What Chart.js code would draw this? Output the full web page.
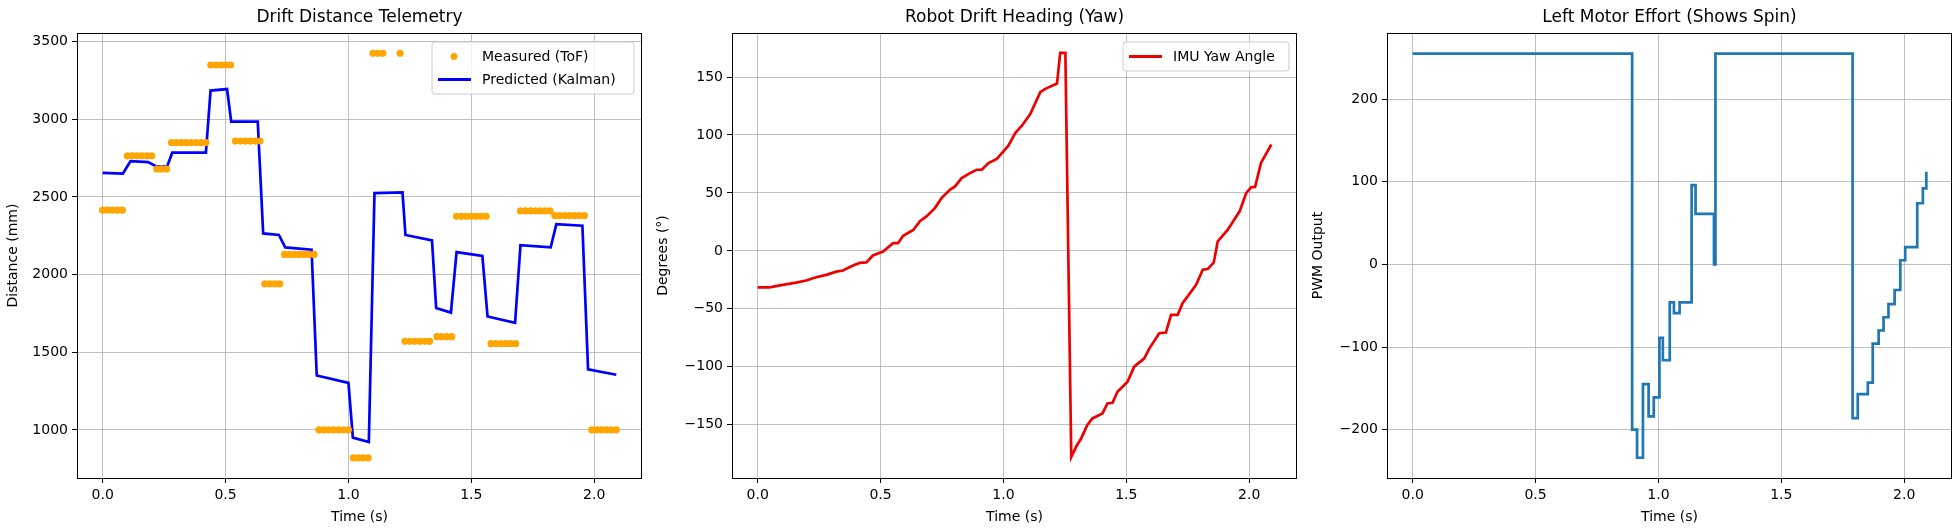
<!DOCTYPE html>
<html><head><meta charset="utf-8">
<script src="https://cdn.jsdelivr.net/npm/chart.js@4.4.1/dist/chart.umd.min.js"></script>
<style>
html,body{margin:0;padding:0;background:#fff;width:1960px;height:530px;overflow:hidden;position:relative}
canvas{position:absolute;top:0}
</style></head><body>
<canvas id="c1" width="655" height="530" style="left:-3px"></canvas>
<canvas id="c2" width="655" height="530" style="left:652px"></canvas>
<canvas id="c3" width="655" height="530" style="left:1307px"></canvas>
<script>
// ---- data ----
const timeTicks = [0, 0.5, 1.0, 1.5, 2.0];
const distTicks = [1000, 1500, 2000, 2500, 3000, 3500];
const yawTicks = [-150, -100, -50, 0, 50, 100, 150];
const pwmTicks = [-200, -100, 0, 100, 200];

const measTime = [0,0.02,0.04,0.06,0.08, 0.10,0.12,0.14,0.16,0.18,0.20, 0.22,0.24,0.26,
  0.28,0.30,0.32,0.34,0.36,0.38,0.40,0.42, 0.44,0.46,0.48,0.50,0.52, 0.54,0.56,0.58,0.60,0.62,0.64,
  0.66,0.68,0.70,0.72, 0.74,0.76,0.78,0.80,0.82,0.84,0.86, 0.88,0.90,0.92,0.94,0.96,0.98,1.00,
  1.02,1.04,1.06,1.08, 1.10,1.12,1.14,1.21, 1.23,1.25,1.27,1.29,1.31,1.33, 1.36,1.38,1.40,1.42,
  1.44,1.46,1.48,1.50,1.52,1.54,1.56, 1.58,1.60,1.62,1.64,1.66,1.68, 1.70,1.72,1.74,1.76,1.78,1.80,1.82,
  1.84,1.86,1.88,1.90,1.92,1.94,1.96, 1.99,2.01,2.03,2.05,2.07,2.09];
const measDist = [2415,2415,2415,2415,2415, 2765,2765,2765,2765,2765,2765, 2680,2680,2680,
  2850,2850,2850,2850,2850,2850,2850,2850, 3350,3350,3350,3350,3350, 2860,2860,2860,2860,2860,2860,
  1940,1940,1940,1940, 2130,2130,2130,2130,2130,2130,2130, 1000,1000,1000,1000,1000,1000,1000,
  820,820,820,820, 3425,3425,3425,3425, 1570,1570,1570,1570,1570,1570, 1600,1600,1600,1600,
  2375,2375,2375,2375,2375,2375,2375, 1555,1555,1555,1555,1555,1555, 2410,2410,2410,2410,2410,2410,2410,
  2380,2380,2380,2380,2380,2380,2380, 1000,1000,1000,1000,1000,1000];

const kalTime = [0,0.082,0.113,0.185,0.22,0.262,0.283,0.42,0.439,0.506,0.523,0.631,0.653,0.717,0.743,0.85,
  0.871,1.0,1.018,1.083,1.106,1.22,1.232,1.34,1.357,1.417,1.44,1.545,1.566,1.678,1.70,1.823,1.846,1.952,1.975,2.09];
const kalDist = [2655,2650,2730,2725,2695,2695,2785,2785,3185,3195,2985,2985,2265,2255,2175,2160,
  1350,1303,950,922,2525,2530,2255,2220,1785,1755,2145,2120,1730,1690,2190,2175,2325,2315,1390,1355];

const yawTime = [0,0.048,0.102,0.156,0.197,0.238,0.279,0.32,0.347,0.388,0.415,0.442,0.469,0.51,0.551,0.571,
  0.592,0.633,0.66,0.687,0.721,0.748,0.782,0.803,0.83,0.864,0.891,0.912,0.939,0.973,1.0,1.02,1.048,1.075,
  1.109,1.15,1.17,1.218,1.231,1.252,1.276,1.299,1.314,1.341,1.362,1.403,1.423,1.444,1.464,1.505,1.532,
  1.573,1.594,1.634,1.661,1.682,1.709,1.729,1.784,1.811,1.831,1.856,1.872,1.913,1.961,1.988,2.008,2.024,2.048,2.09];
const yawDeg = [-31.5,-31.5,-29.4,-27.4,-25.6,-22.8,-20.7,-17.9,-17,-12.7,-10.4,-10,-4,-0.6,6.6,6.6,
  13,18,25.6,29.7,36.9,45.5,52.7,55.6,62.8,67.1,70,70,75.8,79.3,85.9,90.8,101.7,108,
  118,137,139.8,144.4,170.9,170.9,-177.8,-167.7,-162.8,-150.4,-144.6,-140.3,-131.7,-131.1,-121.6,-112.9,-99.9,
  -92.7,-84.1,-71.1,-70.5,-55.2,-55.2,-45.1,-29.3,-16.3,-15.7,-10,8.2,18.3,34.1,50,54.9,55.2,75.9,91.8];

const pwmTime = [0,0.893,0.913,0.937,0.96,0.981,1.004,1.018,1.046,1.063,1.086,1.135,1.151,1.226,1.232,
  1.79,1.811,1.852,1.872,1.896,1.916,1.936,1.961,1.984,2.004,2.053,2.076,2.09];
const pwmVal = [255,-200,-234,-145,-184,-161,-89,-116,-46,-59,-46,96,61,0,255,
  -186,-157,-143,-96,-80,-64,-48,-31,5,21,74,92,112];

// ---- helpers ----
const FONT = "'DejaVu Sans', sans-serif";
const pts = (xs, ys) => xs.map((x, i) => ({x: x, y: ys[i]}));
const minus = s => String(s).replace('-', '\u2212');

function deco(title, ylabel, legendItems, legW) {
  return {
    id: 'deco',
    afterDraw(chart) {
      const ctx = chart.ctx, a = chart.chartArea;
      ctx.save();
      ctx.strokeStyle = '#000'; ctx.lineWidth = 1;
      ctx.strokeRect(a.left + 0.5, a.top + 0.5, a.right - a.left - 1, a.bottom - a.top);
      ctx.fillStyle = '#000';
      ctx.textAlign = 'center'; ctx.textBaseline = 'middle';
      ctx.font = '17px ' + FONT;
      ctx.fillText(title, (a.left + a.right) / 2, 18);
      ctx.font = '14px ' + FONT;
      ctx.fillText('Time (s)', (a.left + a.right) / 2, 517);
      ctx.save();
      ctx.translate(a.left - ylabel.off, (a.top + a.bottom) / 2);
      ctx.rotate(-Math.PI / 2);
      ctx.fillText(ylabel.text, 0, 0);
      ctx.restore();
      if (legendItems) {
        const rowH = 23, h = legendItems.length * rowH + 6;
        const x = a.right - 8 - legW, y = a.top + 9;
        ctx.beginPath();
        if (ctx.roundRect) ctx.roundRect(x, y, legW, h, 3); else ctx.rect(x, y, legW, h);
        ctx.fillStyle = 'rgba(255,255,255,0.8)'; ctx.fill();
        ctx.strokeStyle = '#cccccc'; ctx.lineWidth = 1; ctx.stroke();
        legendItems.forEach((it, i) => {
          const cy = y + 3 + rowH * i + rowH / 2;
          if (it.type === 'dot') {
            ctx.beginPath(); ctx.arc(x + 22, cy, 3.5, 0, 2 * Math.PI);
            ctx.fillStyle = it.color; ctx.fill();
          } else {
            ctx.beginPath(); ctx.moveTo(x + 6, cy); ctx.lineTo(x + 39, cy);
            ctx.strokeStyle = it.color; ctx.lineWidth = 3; ctx.stroke();
          }
          ctx.fillStyle = '#000'; ctx.textAlign = 'left'; ctx.font = '14px ' + FONT;
          ctx.fillText(it.label, x + 50, cy + 1);
        });
      }
      ctx.restore();
    }
  };
}

function scales(xr, yr, yt) {
  const gridCfg = {color: '#b0b0b0', lineWidth: 0.8, tickColor: '#000', tickLength: 5, tickWidth: 1};
  return {
    x: {type: 'linear', min: xr[0], max: xr[1],
      afterBuildTicks: s => { s.ticks = timeTicks.map(v => ({value: v})); },
      afterFit: s => { s.height = 52; },
      grid: gridCfg, border: {display: false},
      ticks: {color: '#000', font: {family: FONT, size: 14}, padding: 4, maxRotation: 0,
        callback: v => v.toFixed(1)}},
    y: {type: 'linear', min: yr[0], max: yr[1],
      afterBuildTicks: s => { s.ticks = yt.map(v => ({value: v})); },
      afterFit: s => { s.width = 80; },
      grid: gridCfg, border: {display: false},
      ticks: {color: '#000', font: {family: FONT, size: 14}, padding: 4,
        callback: v => minus(v)}}
  };
}

const base = {responsive: false, animation: false, devicePixelRatio: 1,
  layout: {padding: {top: 33, right: 10, left: 0, bottom: 0}},
  plugins: {legend: {display: false}, tooltip: {enabled: false}, title: {display: false}}};
const XR = [-0.1045, 2.1945];

new Chart(document.getElementById('c1'), {
  type: 'line',
  data: {datasets: [
    {data: pts(measTime, measDist), showLine: false, pointRadius: 3.6, pointBackgroundColor: '#FFA500',
     pointBorderWidth: 0, borderColor: '#FFA500'},
    {data: pts(kalTime, kalDist), borderColor: '#0000ff', borderWidth: 2.7, pointRadius: 0, tension: 0}
  ]},
  options: Object.assign({}, base, {scales: scales(XR, [690, 3556], distTicks)}),
  plugins: [deco('Drift Distance Telemetry', {text: 'Distance (mm)', off: 64},
    [{type: 'dot', color: '#FFA500', label: 'Measured (ToF)'}, {type: 'line', color: '#0000ff', label: 'Predicted (Kalman)'}], 202)]
});

new Chart(document.getElementById('c2'), {
  type: 'line',
  data: {datasets: [
    {data: pts(yawTime, yawDeg), borderColor: '#ee0000', borderWidth: 2.7, pointRadius: 0, tension: 0}
  ]},
  options: Object.assign({}, base, {scales: scales(XR, [-196, 188], yawTicks)}),
  plugins: [deco('Robot Drift Heading (Yaw)', {text: 'Degrees (\u00b0)', off: 69},
    [{type: 'line', color: '#ee0000', label: 'IMU Yaw Angle'}], 166)]
});

new Chart(document.getElementById('c3'), {
  type: 'line',
  data: {datasets: [
    {data: pts(pwmTime, pwmVal), borderColor: '#1f77b4', borderWidth: 2.7, pointRadius: 0, stepped: 'before'}
  ]},
  options: Object.assign({}, base, {scales: scales(XR, [-258.5, 280], pwmTicks)}),
  plugins: [deco('Left Motor Effort (Shows Spin)', {text: 'PWM Output', off: 69}, null, 0)]
});
</script></body></html>
